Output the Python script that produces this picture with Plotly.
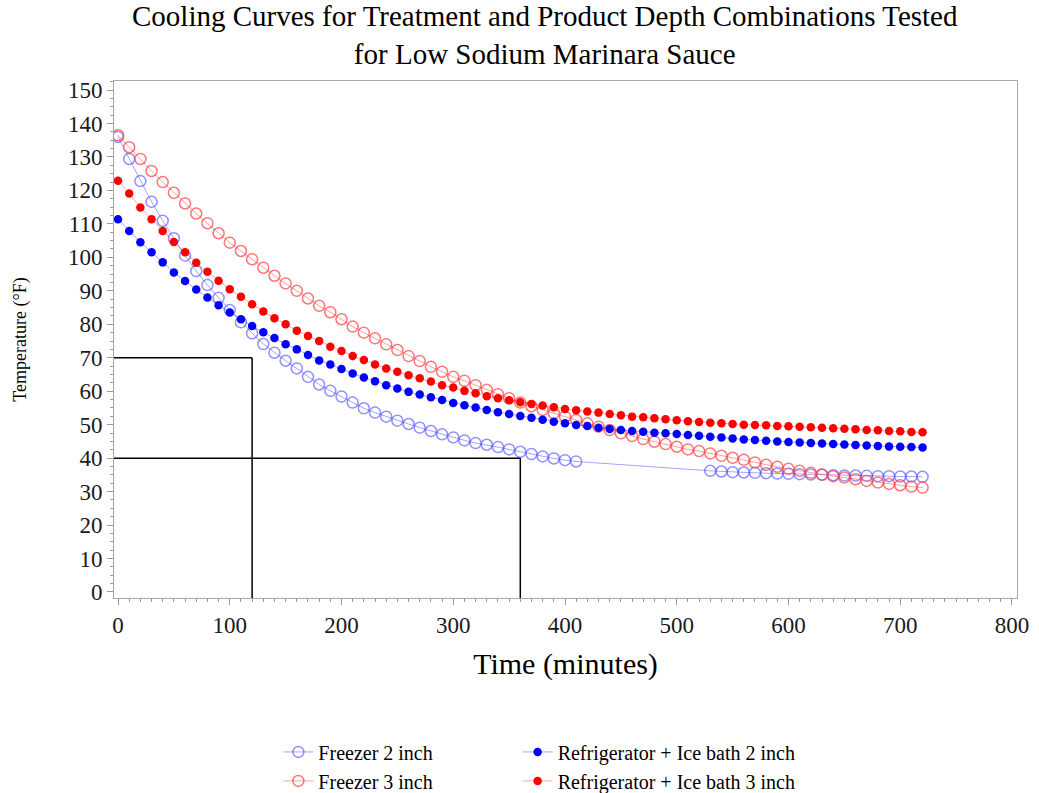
import plotly.graph_objects as go

# ---- data -------------------------------------------------------------
time_f2 = [0, 10, 20, 30, 40, 50, 60, 70, 80, 90, 100, 110, 120, 130, 140, 150,
           160, 170, 180, 190, 200, 210, 220, 230, 240, 250, 260, 270, 280, 290,
           300, 310, 320, 330, 340, 350, 360, 370, 380, 390, 400, 410,
           530, 540, 550, 560, 570, 580, 590, 600, 610, 620, 630, 640, 650, 660,
           670, 680, 690, 700, 710, 720]
temp_f2 = [136.0, 129.4, 122.8, 116.6, 110.9, 105.7, 100.5, 95.9, 91.7, 87.9,
           84.3, 80.6, 77.3, 74.1, 71.5, 69.1, 66.8, 64.3, 62.0, 60.1, 58.4,
           56.6, 54.9, 53.6, 52.4, 51.2, 50.2, 49.1, 48.1, 47.1, 46.2, 45.3,
           44.5, 44.0, 43.3, 42.6, 41.9, 41.2, 40.5, 39.9, 39.4, 39.0,
           36.2, 36.0, 35.8, 35.7, 35.6, 35.5, 35.4, 35.3, 35.2, 35.1, 35.0,
           34.9, 34.8, 34.8, 34.7, 34.6, 34.6, 34.5, 34.5, 34.4]

time_all = [0, 10, 20, 30, 40, 50, 60, 70, 80, 90, 100, 110, 120, 130, 140, 150,
            160, 170, 180, 190, 200, 210, 220, 230, 240, 250, 260, 270, 280, 290,
            300, 310, 320, 330, 340, 350, 360, 370, 380, 390, 400, 410, 420, 430,
            440, 450, 460, 470, 480, 490, 500, 510, 520, 530, 540, 550, 560, 570,
            580, 590, 600, 610, 620, 630, 640, 650, 660, 670, 680, 690, 700, 710,
            720]
temp_f3 = [136.5, 132.9, 129.4, 125.8, 122.5, 119.3, 116.1, 113.1, 110.2, 107.2,
           104.4, 101.9, 99.4, 96.9, 94.5, 92.2, 90.0, 87.7, 85.5,
           83.6, 81.5, 79.3, 77.5, 75.8, 74.0, 72.3, 70.5, 69.0, 67.3, 65.8,
           64.3, 63.1, 61.8, 60.4, 59.1, 57.9, 56.6, 55.5,
           54.4, 53.4, 52.4, 51.4, 50.4, 49.4, 48.4, 47.4, 46.6, 45.7, 44.9,
           44.2, 43.4, 42.6, 42.1, 41.4, 40.7, 40.1, 39.5,
           38.7, 38.0, 37.4, 36.8, 36.2, 35.6, 35.1, 34.6, 34.2, 33.7, 33.2,
           32.7, 32.3, 31.9, 31.5, 31.2]
temp_r2 = [111.4, 107.9, 104.5, 101.5, 98.5, 95.5, 92.9, 90.4, 88.0, 85.7,
           83.5, 81.5, 79.5, 77.6, 75.9, 74.0, 72.5, 70.8, 69.2,
           68.0, 66.6, 65.3, 64.1, 63.0, 61.8, 60.8, 59.8, 59.0, 58.2, 57.4,
           56.5, 55.8, 55.1, 54.4, 53.7, 53.2, 52.6, 52.1,
           51.5, 50.9, 50.4, 49.9, 49.6, 49.1, 48.7, 48.4, 48.1, 47.9, 47.6,
           47.4, 47.2, 46.9, 46.7, 46.4, 46.2, 45.9, 45.6,
           45.4, 45.2, 45.0, 44.8, 44.7, 44.5, 44.4, 44.2, 44.1, 43.9, 43.8,
           43.6, 43.5, 43.4, 43.3, 43.2]
temp_r3 = [122.9, 119.1, 114.9, 111.4, 107.9, 104.6, 101.5, 98.4, 95.7, 93.0,
           90.5, 88.2, 86.0, 83.8, 81.8, 80.0, 78.1, 76.5, 75.0,
           73.3, 72.0, 70.5, 69.3, 68.0, 66.8, 65.8, 64.8, 63.9, 62.9, 61.8,
           61.1, 60.1, 59.4, 58.5, 57.9, 57.3, 56.7, 56.2,
           55.7, 55.2, 54.7, 54.3, 53.9, 53.6, 53.2, 52.8, 52.4, 52.2, 51.9,
           51.6, 51.3, 51.0, 50.8, 50.6, 50.4, 50.2, 50.0,
           49.9, 49.8, 49.6, 49.5, 49.4, 49.2, 49.1, 48.9, 48.8, 48.6, 48.4,
           48.3, 48.1, 48.0, 47.8, 47.7]

series_names = ["Freezer 2 inch", "Freezer 3 inch",
                "Refrigerator + Ice bath 2 inch", "Refrigerator + Ice bath 3 inch"]

# cooling-guideline checkpoints: (minutes, °F)
checkpoints = [(120, 70), (360, 40)]

X_RANGE = [-3.6, 804.5]
Y_RANGE = [-1.8, 152.7]
FONT = "Liberation Serif, Times New Roman, serif"

# ---- figure -----------------------------------------------------------
fig = go.Figure()

fig.add_trace(go.Scatter(
    x=time_f2, y=temp_f2, name=series_names[0], mode="lines+markers",
    line=dict(color="rgba(90,90,255,0.55)", width=1),
    marker=dict(symbol="circle-open", size=11,
                line=dict(width=1.5), color="rgba(70,70,255,0.6)"),
    legend="legend"))
fig.add_trace(go.Scatter(
    x=time_all, y=temp_f3, name=series_names[1], mode="lines+markers",
    line=dict(color="rgba(255,80,80,0.55)", width=1),
    marker=dict(symbol="circle-open", size=11,
                line=dict(width=1.5), color="rgba(255,60,60,0.7)"),
    legend="legend"))
fig.add_trace(go.Scatter(
    x=time_all, y=temp_r2, name=series_names[2], mode="lines+markers",
    line=dict(color="rgba(0,0,255,0.35)", width=1),
    marker=dict(symbol="circle", size=8.5, color="#0000ff"),
    legend="legend2"))
fig.add_trace(go.Scatter(
    x=time_all, y=temp_r3, name=series_names[3], mode="lines+markers",
    line=dict(color="rgba(255,0,0,0.35)", width=1),
    marker=dict(symbol="circle", size=8.5, color="#ff0000"),
    legend="legend2"))

# reference lines: horizontal from the y axis to the checkpoint, then down
shapes = []
for t, temp in checkpoints:
    shapes.append(dict(type="line", xref="x", yref="y",
                       x0=X_RANGE[0], x1=t, y0=temp, y1=temp,
                       line=dict(color="black", width=1.5)))
    shapes.append(dict(type="line", xref="x", yref="y",
                       x0=t, x1=t, y0=Y_RANGE[0], y1=temp,
                       line=dict(color="black", width=1.5)))

axis_common = dict(
    showgrid=False, zeroline=False, showline=True, mirror=True,
    linecolor="#a8a8a8", linewidth=1,
    ticks="outside", ticklen=6, tickcolor="#9a9a9a", tickwidth=1,
    tickfont=dict(family=FONT, size=23, color="#1a1a1a"),
)

fig.update_layout(
    width=1039, height=793, autosize=False,
    margin=dict(l=114, r=22, t=81, b=195, autoexpand=False),
    paper_bgcolor="white", plot_bgcolor="white",
    title=dict(
        text="Cooling Curves for Treatment and Product Depth Combinations Tested"
             "<br>for Low Sodium Marinara Sauce",
        font=dict(family=FONT, size=29, color="black"),
        x=0.477, xref="paper", xanchor="center",
        y=0.967, yref="container", yanchor="top"),
    xaxis=dict(
        range=X_RANGE, tick0=0, dtick=100,
        minor=dict(dtick=10, ticks="outside", ticklen=3, tickcolor="#9a9a9a"),
        title=dict(text="Time (minutes)", standoff=16,
                   font=dict(family=FONT, size=30, color="black")),
        **axis_common),
    yaxis=dict(
        range=Y_RANGE, tick0=0, dtick=10,
        minor=dict(dtick=2.5, ticks="outside", ticklen=3, tickcolor="#9a9a9a"),
        title=dict(text="Temperature (°F)", standoff=36,
                   font=dict(family=FONT, size=18, color="black")),
        **axis_common),
    shapes=shapes,
    legend=dict(
        x=0.182, y=-0.26, xanchor="left", yanchor="top",
        orientation="v", bgcolor="rgba(0,0,0,0)",
        font=dict(family=FONT, size=20, color="black"),
        tracegroupgap=0, itemwidth=30),
    legend2=dict(
        x=0.447, y=-0.26, xanchor="left", yanchor="top",
        orientation="v", bgcolor="rgba(0,0,0,0)",
        font=dict(family=FONT, size=20, color="black"),
        tracegroupgap=0, itemwidth=30),
    showlegend=True,
)

fig.write_html("out.html")
